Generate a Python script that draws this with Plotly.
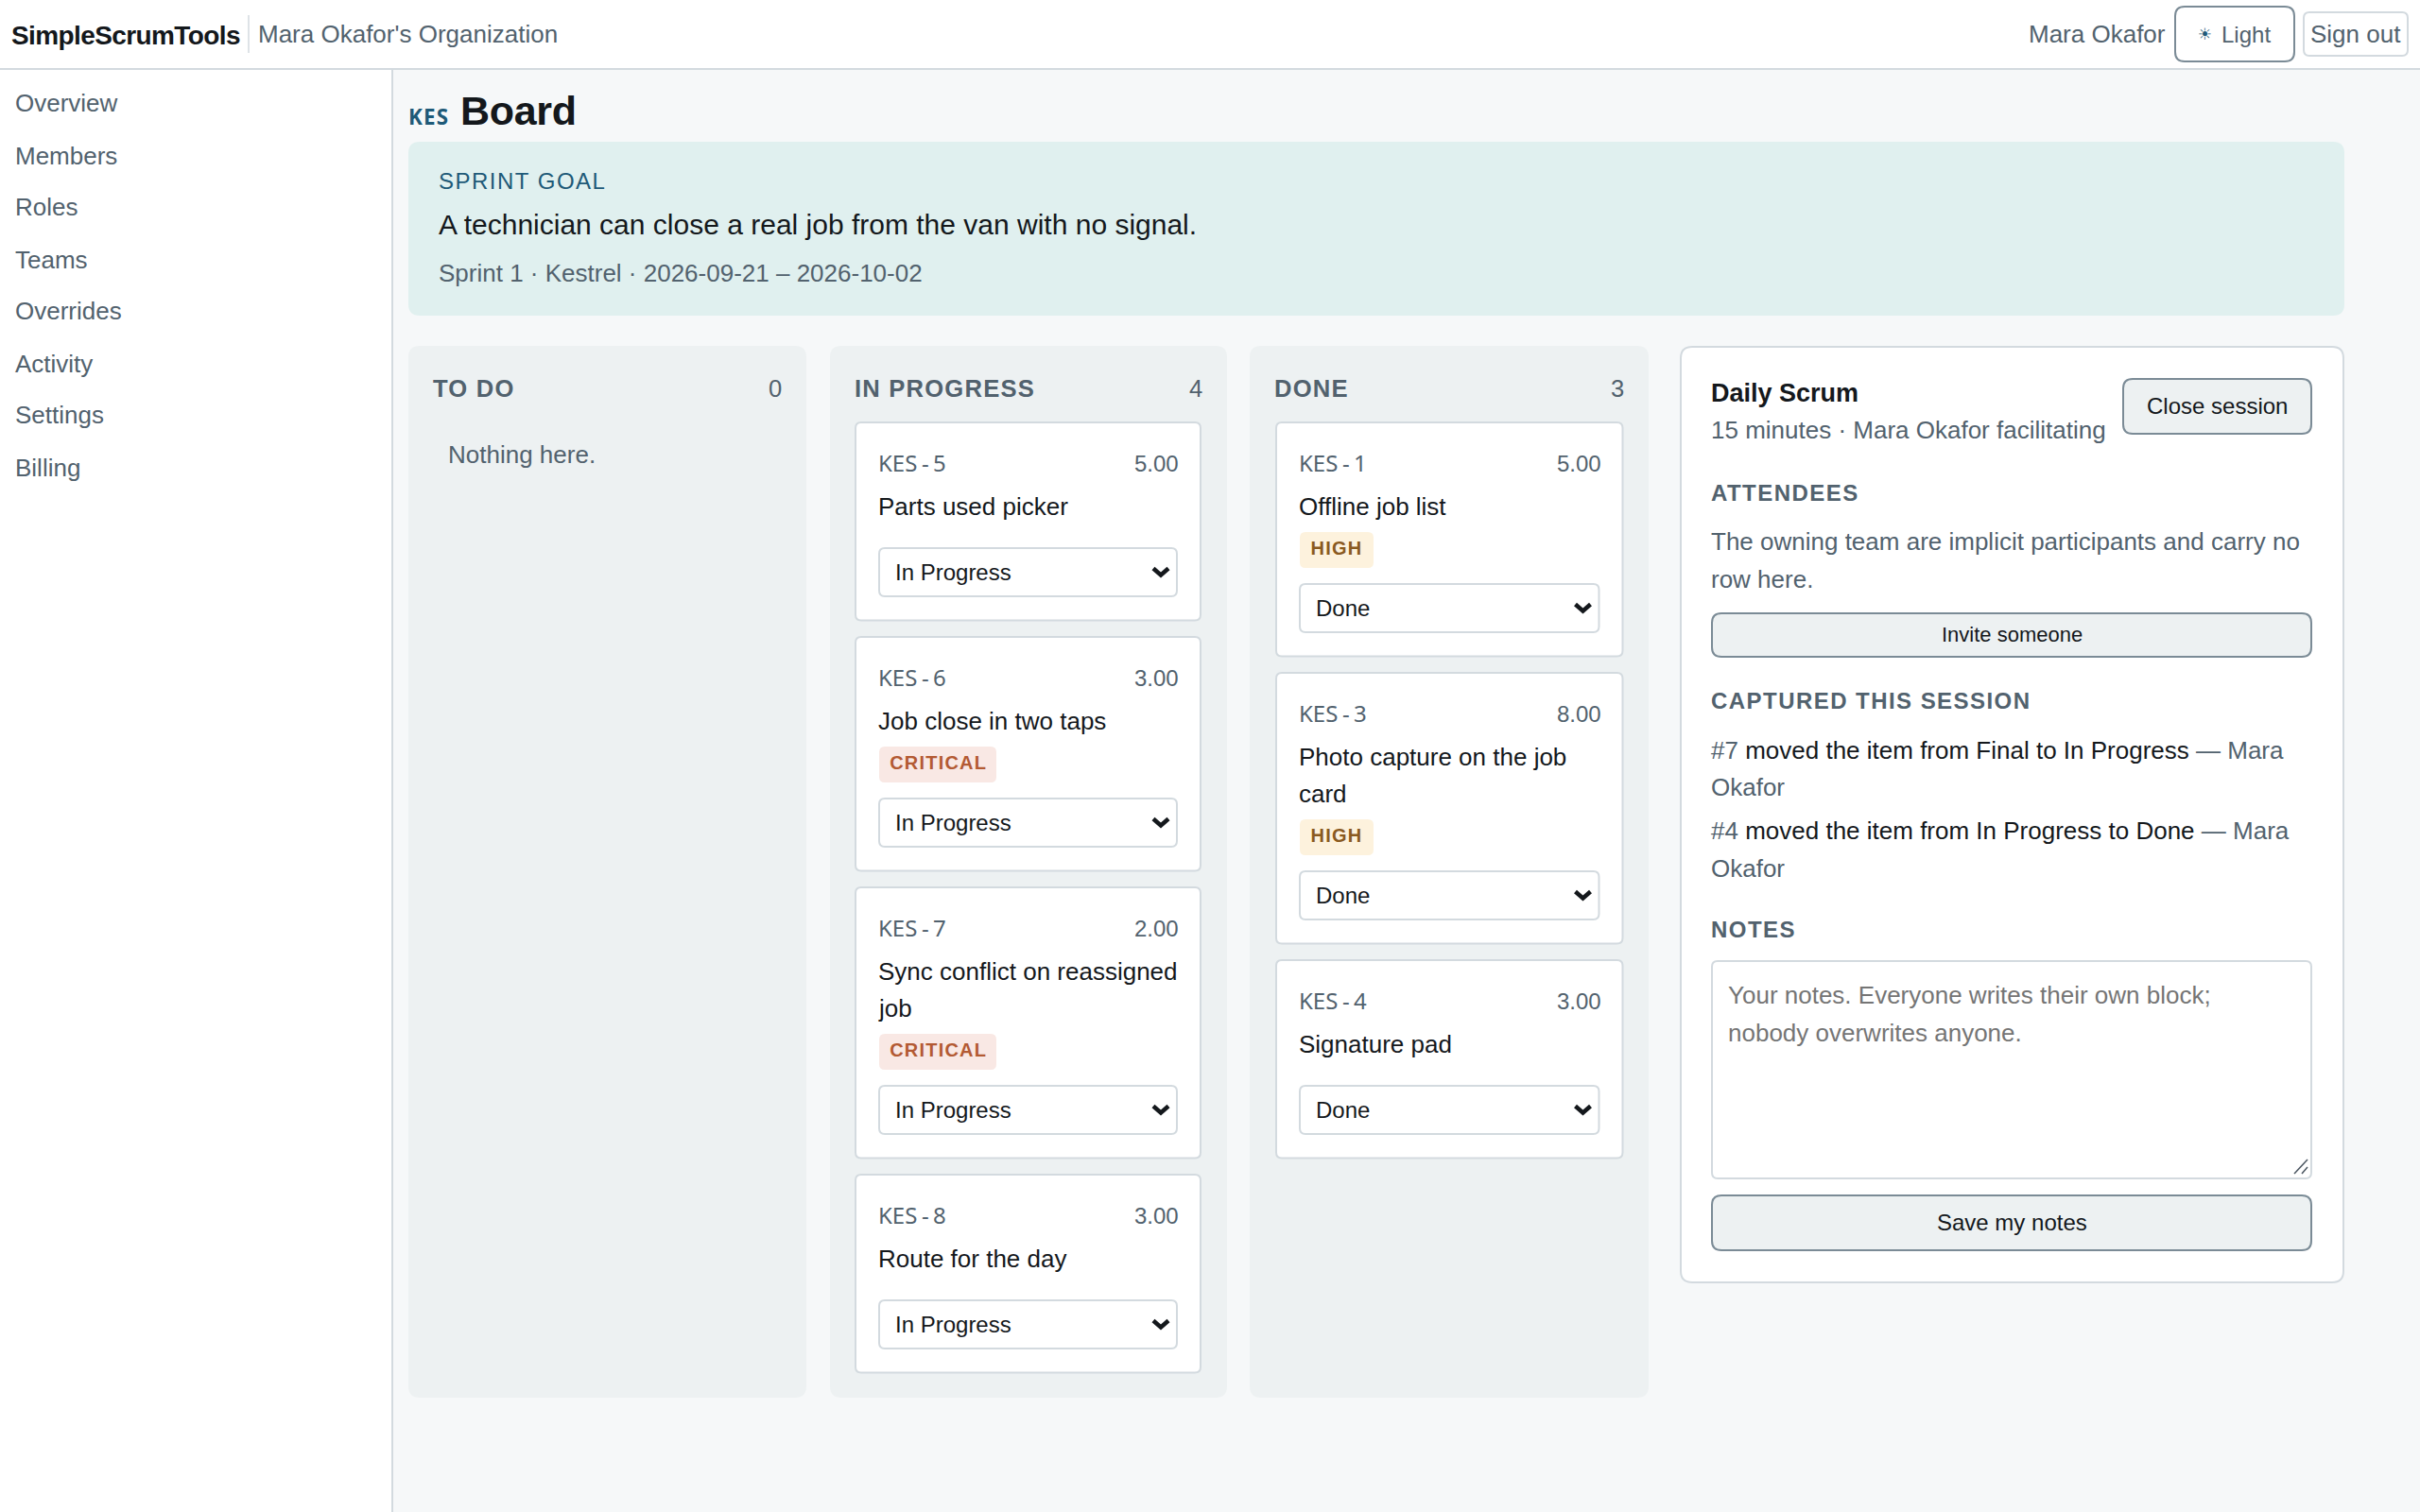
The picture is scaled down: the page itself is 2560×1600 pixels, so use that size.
import json
import plotly.graph_objects as go

SANS = "Liberation Sans"
INK = "#14181c"
MUTED = "#52626e"
ACCENT = "#1e5a78"
RULE = "#d3dadf"
BTN_EDGE = "#7b8b96"
PANEL = "#edf1f2"

nav_items = ["Overview", "Members", "Roles", "Teams", "Overrides", "Activity", "Settings", "Billing"]
nav_y = [109, 165, 219, 275, 329, 385, 439, 495]

column_names = ["TO DO", "IN PROGRESS", "DONE"]
column_counts = [0, 4, 3]

progress_ids = ["KES-5", "KES-6", "KES-7", "KES-8"]
progress_points = ["5.00", "3.00", "2.00", "3.00"]
progress_titles = ["Parts used picker", "Job close in two taps", "Sync conflict on reassigned\njob", "Route for the day"]
progress_priority = [None, "CRITICAL", "CRITICAL", None]

done_ids = ["KES-1", "KES-3", "KES-4"]
done_points = ["5.00", "8.00", "3.00"]
done_titles = ["Offline job list", "Photo capture on the job\ncard", "Signature pad"]
done_priority = ["HIGH", "HIGH", None]

badge_styles = {"CRITICAL": ("#f9e8e4", "#b35a33", 124), "HIGH": ("#fdf2dd", "#8a5a1f", 78)}

shapes = []
annotations = []
spacing = {}


def rrect(x0, y0, x1, y1, r, fill, edge=None, width=0):
    path = (f"M{x0+r},{y0} L{x1-r},{y0} Q{x1},{y0} {x1},{y0+r} L{x1},{y1-r} Q{x1},{y1} {x1-r},{y1} "
            f"L{x0+r},{y1} Q{x0},{y1} {x0},{y1-r} L{x0},{y0+r} Q{x0},{y0} {x0+r},{y0} Z")
    shapes.append(dict(type="path", path=path, xref="x", yref="y", fillcolor=fill, layer="below",
                       line=dict(color=edge or fill, width=width)))


def stroke(path, color, width):
    shapes.append(dict(type="path", path=path, xref="x", yref="y", layer="below",
                       line=dict(color=color, width=width)))


def label(x, y, s, size=26, color=INK, bold=False, anchor="left", family=SANS, track=None):
    annotations.append(dict(x=x, y=y, xref="x", yref="y", text=s, showarrow=False, xanchor=anchor, yanchor="middle",
                            align=anchor, borderpad=0, borderwidth=0,
                            font=dict(family=family, size=size, color=color, weight=700 if bold else 400)))
    if track is not None:
        spacing[s] = track


def button(x0, y0, x1, y1, s, size=24):
    rrect(x0, y0, x1, y1, 10, PANEL, BTN_EDGE, 2)
    label((x0 + x1) / 2, (y0 + y1) / 2 - 0.5, s, size, INK, anchor="center")


def draw_card(x0, x1, top, key, pts, title, priority, status):
    lines = title.split("\n")
    h = 209.5 + 39 * (len(lines) - 1) + (38 if priority else 0)
    rrect(x0, top, x1, top + h, 6, "#ffffff", RULE, 2)
    # the dash sits loose in its cell, so only "S-" gets extra tracking
    spaced = f'{key[:2]}<span style="letter-spacing:4.5px">{key[2:4]}</span>{key[4:]}'
    label(x0 + 24, top + 42.5, spaced, 24, MUTED, family="Noto Sans")
    label(x1 - 23, top + 43, pts, 24, MUTED, anchor="right")
    for i, line in enumerate(lines):
        label(x0 + 24, top + 88.5 + 39 * i, line, 26, INK)
    sel = top + 133 + 39 * (len(lines) - 1)
    if priority:
        bg, fg, w = badge_styles[priority]
        rrect(x0 + 25, sel - 17, x0 + 25 + w, sel + 21, 6, bg)
        label(x0 + 25 + w / 2, sel - 0.5, priority, 20, fg, True, "center", track="1.2px")
        sel += 38
    rrect(x0 + 25, sel, x1 - 25, sel + 51, 6, "#ffffff", RULE, 2)
    label(x0 + 41.5, sel + 25, status, 24, INK)
    cx = x1 - 42
    cy = sel + 25
    stroke(f"M{cx-8},{cy-3.5} L{cx},{cy+3.5} L{cx+8},{cy-3.5}", INK, 4.5)


# page chrome
rrect(0, 0, 2560, 72, 0, "#ffffff")
rrect(0, 74, 415, 1600, 0, "#ffffff")
stroke("M0,73 L2560,73", RULE, 2)
stroke("M415,73 L415,1600", RULE, 2)

label(12, 37, "SimpleScrumTools", 28, INK, True, track="-0.6px")
stroke("M263,16 L263,56", RULE, 1.5)
label(272.5, 35.5, "Mara Okafor's Organization", 26, MUTED)
label(2291, 35.5, "Mara Okafor", 26, MUTED, anchor="right")
rrect(2301, 7, 2427, 65, 10, "#ffffff", BTN_EDGE, 2)
label(2332, 36, "☀", 17, ACCENT, anchor="center", family="DejaVu Sans")
label(2350, 36, "Light", 24, MUTED)
rrect(2437, 13, 2547, 59, 6, "#ffffff", RULE, 2)
label(2492, 35.5, "Sign out", 26, MUTED, anchor="center")

for name, y in zip(nav_items, nav_y):
    label(16, y, name, 26, MUTED)

label(432, 123.5, "KES", 22.4, ACCENT, True, family="Noto Sans", track="1.2px")
label(487, 117, "Board", 43, INK, True, track="-0.3px")

rrect(432, 150, 2480, 334, 12, "#e0f0ef")
label(464, 191.5, "SPRINT GOAL", 24, ACCENT, track="1.5px")
label(464, 237.5, "A technician can close a real job from the van with no signal.", 30, INK)
label(464, 289, "Sprint 1 · Kestrel · 2026-09-21 – 2026-10-02", 26, MUTED)

# board columns
column_x = [(432, 853), (878, 1298), (1322, 1744)]
for (x0, x1), name, count in zip(column_x, column_names, column_counts):
    rrect(x0, 366, x1, 1479, 12, PANEL)
    label(x0 + 26, 411, name, 25.6, MUTED, True, track="1.2px")
    label(x1 - 26, 411, str(count), 25.6, MUTED, anchor="right")
label(474, 481, "Nothing here.", 26, MUTED)

for ids, pts, titles, prio, status, (x0, x1) in [
    (progress_ids, progress_points, progress_titles, progress_priority, "In Progress", (905, 1270)),
    (done_ids, done_points, done_titles, done_priority, "Done", (1350, 1716.5)),
]:
    top = 447
    for key, p, t, pr in zip(ids, pts, titles, prio):
        draw_card(x0, x1, top, key, p, t, pr, status)
        top += 209.5 + 39 * t.count("\n") + (38 if pr else 0) + 17.5

# daily scrum panel
rrect(1778, 367, 2479, 1357, 12, "#ffffff", RULE, 2)
label(1810, 416, "Daily Scrum", 27, INK, True)
label(1810, 455, "15 minutes · Mara Okafor facilitating", 26, MUTED)
button(2246, 401, 2445, 459, "Close session")

label(1810, 521.5, "ATTENDEES", 24, MUTED, True, track="1.45px")
label(1810, 573, "The owning team are implicit participants and carry no", 26, MUTED)
label(1810, 613, "row here.", 26, MUTED)
button(1811, 649, 2445, 695, "Invite someone", 22)

label(1810, 741, "CAPTURED THIS SESSION", 24, MUTED, True, track="1.45px")
capture_lines = [
    (793.5, f'#7 <span style="color:{INK}">moved the item from Final to In Progress</span> — Mara'),
    (833, "Okafor"),
    (879, f'#4 <span style="color:{INK}">moved the item from In Progress to Done</span> — Mara'),
    (919, "Okafor"),
]
for y, s in capture_lines:
    label(1810, y, s, 26, MUTED)

label(1810, 983.5, "NOTES", 24, MUTED, True, track="1.45px")
rrect(1811, 1017, 2445, 1247, 6, "#ffffff", RULE, 2)
label(1828, 1053, "Your notes. Everyone writes their own block;", 26, "#757575")
label(1828, 1093, "nobody overwrites anyone.", 26, "#757575")
stroke("M2427,1242 L2441,1227", "#4a5560", 1.5)
stroke("M2435,1242 L2441,1235", "#4a5560", 1.5)
button(1811, 1265, 2445, 1323, "Save my notes")

fig = go.Figure()
fig.update_layout(
    width=2560,
    height=1600,
    margin=dict(l=0, r=0, t=0, b=0),
    paper_bgcolor="#f6f8f9",
    plot_bgcolor="#f6f8f9",
    xaxis=dict(visible=False, range=[0, 2560], fixedrange=True),
    yaxis=dict(visible=False, range=[1600, 0], fixedrange=True),
    shapes=shapes,
    annotations=annotations,
    showlegend=False,
)

script = """
document.body.style.margin = '0';
var tracking = %s;
document.querySelectorAll('.annotation-text').forEach(function (el) {
  var t = tracking[el.textContent];
  if (t) { el.style.letterSpacing = t; }
});
""" % json.dumps(spacing)

fig.write_html("out.html", post_script=script, config={"displayModeBar": False})
